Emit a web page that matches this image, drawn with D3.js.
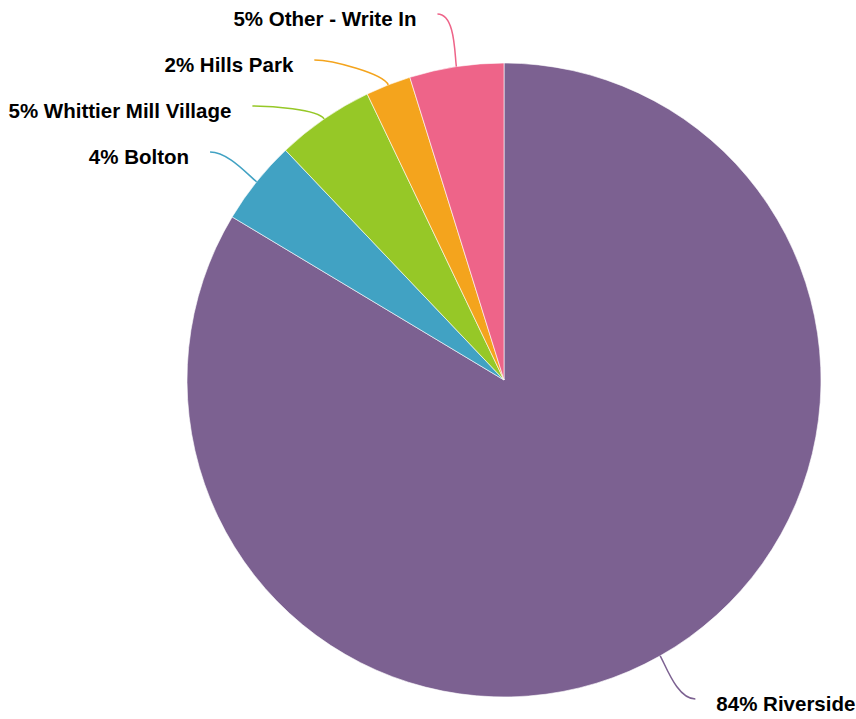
<!DOCTYPE html>
<html><head><meta charset="utf-8">
<script src="https://cdn.jsdelivr.net/npm/d3@7"></script>
<style>body{margin:0;background:#fff}svg{display:block}</style>
</head><body>
<svg id="c" width="856" height="719"></svg>
<script>
const categories = ["Riverside", "Bolton", "Whittier Mill Village", "Hills Park", "Other - Write In"];
const values = [83.6, 4.3, 5.0, 2.3, 4.8];
const colors = ["#7c6191", "#41a2c3", "#96c827", "#f4a41d", "#ee6489"];

const W = 856, H = 719, cx = 504, cy = 380, R = 317, R2 = 372, gap = 21, minSpace = 46, topY = 14, botY = 699;
const svg = d3.select("#c");
const g = svg.append("g").attr("transform", `translate(${cx},${cy})`);
const data = categories.map((c, i) => ({name: c, value: values[i], color: colors[i]}));
const pie = d3.pie().value(d => d.value).sort(null);
const arcs = pie(data);
const arc = d3.arc().innerRadius(0).outerRadius(R);
g.selectAll("path.slice").data(arcs).enter().append("path")
  .attr("class", "slice").attr("d", arc).attr("fill", d => d.data.color)
  .attr("stroke", "#fff").attr("stroke-width", 0.6);

// label layout
arcs.forEach(a => {
  a.mid = (a.startAngle + a.endAngle) / 2;
  a.side = Math.sin(a.mid) >= 0 ? 1 : -1;
  a.ly = -R2 * Math.cos(a.mid);
});
[1, -1].forEach(side => {
  const grp = arcs.filter(a => a.side === side).sort((a, b) => a.ly - b.ly);
  let prev = -Infinity;
  grp.forEach(a => {
    a.ly = Math.min(Math.max(a.ly, prev + minSpace, topY - cy), botY - cy);
    prev = a.ly;
  });
});
arcs.forEach(a => {
  a.lx = a.side * Math.sqrt(Math.max(0, R2 * R2 - a.ly * a.ly));
});

const total = d3.sum(values);
arcs.forEach(a => {
  const sx = R * Math.sin(a.mid), sy = -R * Math.cos(a.mid);
  const ex = (R + 12) * Math.sin(a.mid), ey = -(R + 12) * Math.cos(a.mid);
  const p = d3.path();
  p.moveTo(sx, sy);
  p.bezierCurveTo(ex, ey, a.lx - a.side * 18, a.ly, a.lx, a.ly);
  g.append("path").attr("d", p.toString()).attr("fill", "none")
    .attr("stroke", a.data.color).attr("stroke-width", 1.5);
  g.append("text")
    .attr("x", a.lx + a.side * gap).attr("y", a.ly + 12)
    .attr("text-anchor", a.side > 0 ? "start" : "end")
    .style("font-family", "'Liberation Sans', Arial, sans-serif")
    .attr("font-weight", "bold").attr("font-size", 20.5).attr("fill", "#000")
    .text(`${Math.round(a.data.value / total * 100)}% ${a.data.name}`);
});
</script>
</body></html>
